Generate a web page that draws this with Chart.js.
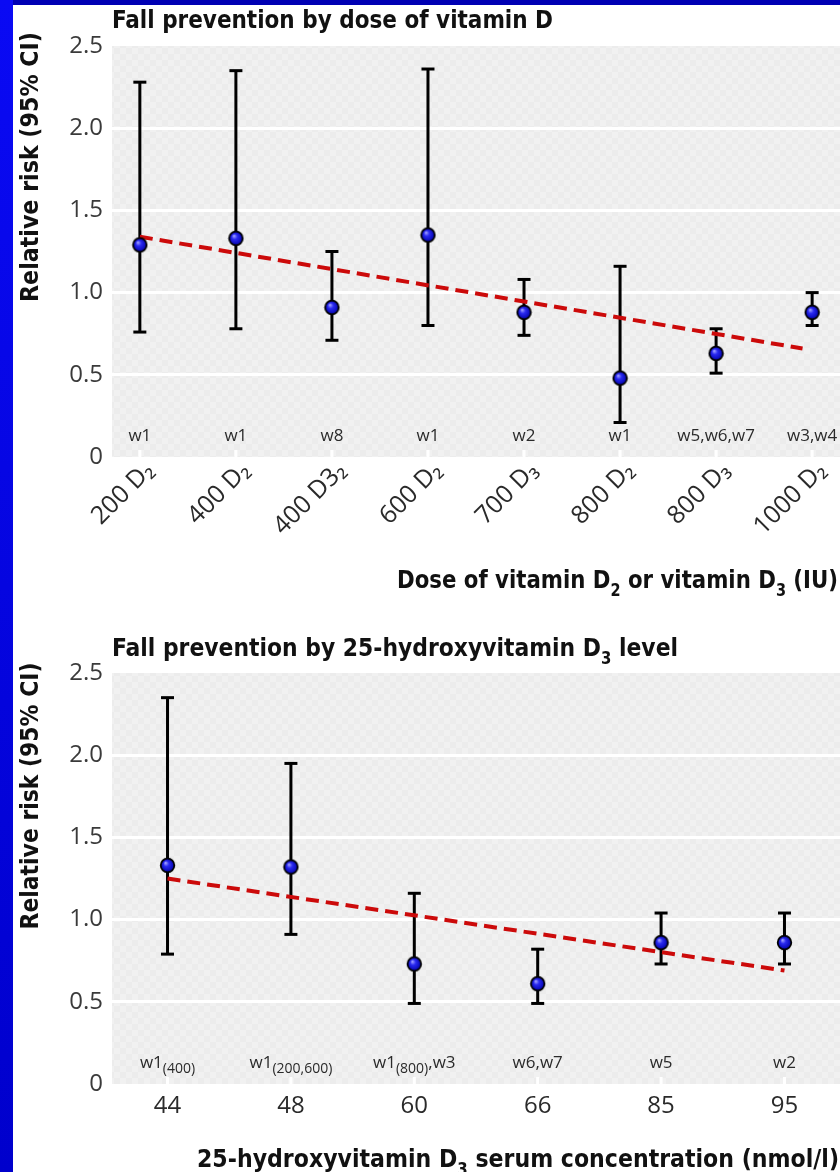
<!DOCTYPE html>
<html>
<head>
<meta charset="utf-8">
<script src="https://cdn.jsdelivr.net/npm/chart.js@4.4.1/dist/chart.umd.min.js"></script>
<style>
  body { margin: 0; background: #fff; width: 840px; height: 1172px; overflow: hidden; position: relative; }
  canvas { position: absolute; left: 0; }
  #doseChart { top: 0; }
  #levelChart { top: 610px; }
  #edgeTop { position: absolute; left: 0; top: 0; width: 840px; height: 5px; background: #0000b4; z-index: 2; }
  #edgeLeft { position: absolute; left: 0; top: 0; width: 13px; height: 1172px; background: linear-gradient(#0a0af4, #0000cc); z-index: 3; }
</style>
</head>
<body>
<div id="edgeTop"></div>
<div id="edgeLeft"></div>
<canvas id="doseChart" width="840" height="610"></canvas>
<canvas id="levelChart" width="840" height="562"></canvas>
<script>
// ---- data ----
const yTicks = [0, 0.5, 1.0, 1.5, 2.0, 2.5];

const doseLabels = ["200 D₂", "400 D₂", "400 D3₂", "600 D₂", "700 D₃", "800 D₂", "800 D₃", "1000 D₂"];
const doseStudies = ["w1", "w1", "w8", "w1", "w2", "w1", "w5,w6,w7", "w3,w4"];
const doseRR = [1.29, 1.33, 0.91, 1.35, 0.88, 0.48, 0.63, 0.88];
const doseLow = [0.76, 0.78, 0.71, 0.80, 0.74, 0.21, 0.51, 0.80];
const doseHigh = [2.28, 2.35, 1.25, 2.36, 1.08, 1.16, 0.78, 1.00];
const doseTrendX = [0, 6.9];
const doseTrendY = [1.34, 0.66];

const levelLabels = ["44", "48", "60", "66", "85", "95"];
const levelStudies = ["w1{(400)}", "w1{(200,600)}", "w1{(800)},w3", "w6,w7", "w5", "w2"];
const levelRR = [1.33, 1.32, 0.73, 0.61, 0.86, 0.86];
const levelLow = [0.79, 0.91, 0.49, 0.49, 0.73, 0.73];
const levelHigh = [2.35, 1.95, 1.16, 0.82, 1.04, 1.04];
const levelTrendX = [0, 5];
const levelTrendY = [1.25, 0.69];

const BOLD_FONT = '"DejaVu Sans Condensed", "Liberation Sans Narrow", "DejaVu Sans", sans-serif';
const LIGHT_FONT = '"Open Sans", "Noto Sans", sans-serif';

// shiny blue ball used as point style
function makeBall() {
    const c = document.createElement("canvas");
    c.width = 17; c.height = 17;
    const g = c.getContext("2d");
    const grad = g.createRadialGradient(6.5, 6, 0.5, 8.5, 8.5, 7);
    grad.addColorStop(0, "#9a9aff");
    grad.addColorStop(0.35, "#2a2af0");
    grad.addColorStop(1, "#0000a8");
    g.beginPath();
    g.arc(8.5, 8.5, 6.8, 0, Math.PI * 2);
    g.fillStyle = grad;
    g.fill();
    g.lineWidth = 1.8;
    g.strokeStyle = "#000";
    g.stroke();
    return c;
}
const ball = makeBall();

// faint checker fill of the plot area
function makePattern(ctx) {
    const c = document.createElement("canvas");
    c.width = 12; c.height = 12;
    const g = c.getContext("2d");
    g.fillStyle = "#ececec";
    g.fillRect(0, 0, 12, 12);
    g.fillStyle = "#f1f1f1";
    g.fillRect(0, 0, 6, 6);
    g.fillRect(6, 6, 6, 6);
    return ctx.createPattern(c, "repeat");
}

// text with {subscript} parts, optionally squeezed to a width
function drawRich(ctx, text, x, y, o) {
    const pieces = text.split(/(\{[^}]*\})/).filter(s => s).map(s =>
        s[0] === "{" ? { t: s.slice(1, -1), sub: true } : { t: s, sub: false });
    const subScale = o.subScale || 0.68;
    const fontFor = p => `${o.weight} ${p.sub ? Math.round(o.size * subScale) : o.size}px ${o.family}`;
    let total = 0;
    pieces.forEach(p => {
        ctx.font = fontFor(p);
        p.w = ctx.measureText(p.t).width;
        total += p.w;
    });
    const sx = o.width ? o.width / total : 1;
    ctx.save();
    ctx.translate(x, y);
    if (o.rotate) ctx.rotate(o.rotate);
    ctx.scale(sx, 1);
    ctx.fillStyle = o.color;
    ctx.textAlign = "left";
    ctx.textBaseline = "alphabetic";
    let cx = o.align === "center" ? -total / 2 : 0;
    pieces.forEach(p => {
        ctx.font = fontFor(p);
        ctx.fillText(p.t, cx, p.sub ? o.size * 0.3 : 0);
        cx += p.w;
    });
    ctx.restore();
}

const decoPlugin = {
    id: "deco",
    beforeDraw(chart, args, o) {
        const { ctx, chartArea: a } = chart;
        ctx.save();
        ctx.fillStyle = makePattern(ctx);
        ctx.fillRect(a.left, a.top, a.right - a.left, a.bottom - a.top);
        ctx.restore();
    },
    beforeDatasetsDraw(chart, args, o) {
        const { ctx, chartArea: a, scales } = chart;
        ctx.save();
        ctx.fillStyle = "#fff";
        o.studies.forEach((s, i) => {
            const x = scales.x.getPixelForValue(i);
            ctx.fillRect(x - 1.5, a.bottom - 7, 3, 7);
        });
        ctx.restore();
    },
    afterDraw(chart, args, o) {
        const { ctx, chartArea: a, scales } = chart;
        const bold = { weight: "bold", size: 25, family: BOLD_FONT, color: "#111" };
        drawRich(ctx, o.title, a.left, o.titleY, { ...bold, width: o.titleW });
        drawRich(ctx, o.yTitle, 38, o.yTitleY, { ...bold, width: o.yTitleW, rotate: -Math.PI / 2, align: "center" });
        drawRich(ctx, o.xTitle, o.xTitleX, o.xTitleY, { ...bold, width: o.xTitleW });
        o.studies.forEach((s, i) => {
            const x = scales.x.getPixelForValue(i);
            drawRich(ctx, s, x, a.bottom - 16, {
                weight: "normal", size: 17, family: LIGHT_FONT, color: "#2a2a2a",
                align: "center", subScale: 0.8
            });
        });
    }
};

function makeChart(canvasId, cfg) {
    const whiskers = [];
    const caps = [];
    const points = [];
    cfg.rr.forEach((v, i) => {
        whiskers.push({ x: i, y: cfg.low[i] }, { x: i, y: cfg.high[i] }, { x: i, y: null });
        caps.push({ x: i, y: cfg.low[i] }, { x: i, y: cfg.high[i] });
        points.push({ x: i, y: v });
    });
    const trend = cfg.trendX.map((x, i) => ({ x: x, y: cfg.trendY[i] }));

    return new Chart(document.getElementById(canvasId), {
        type: "scatter",
        data: {
            datasets: [
                { data: points, pointStyle: ball, pointRadius: 8, order: 0, clip: false },
                {
                    type: "line", data: trend, showLine: true, pointRadius: 0,
                    borderColor: "#cc0a0a", borderWidth: 4, borderDash: [13, 7], order: 1
                },
                {
                    data: caps, pointStyle: "line", pointRadius: 6.5,
                    borderColor: "#000", borderWidth: 3, order: 2, clip: false
                },
                {
                    type: "line", data: whiskers, showLine: true, spanGaps: false, pointRadius: 0,
                    borderColor: "#000", borderWidth: 3, order: 3
                }
            ]
        },
        options: {
            responsive: false,
            animation: false,
            events: [],
            layout: { autoPadding: false, padding: { top: cfg.plotTop, left: 0, right: 0, bottom: 0 } },
            plugins: {
                legend: { display: false },
                tooltip: { enabled: false },
                deco: cfg.deco
            },
            scales: {
                x: {
                    type: "linear",
                    min: cfg.xMin,
                    max: cfg.xMax,
                    afterBuildTicks: axis => { axis.ticks = cfg.labels.map((l, i) => ({ value: i })); },
                    afterFit: scale => {
                        scale.height = cfg.xAxisHeight;
                        scale.paddingLeft = 0;
                        scale.paddingRight = 0;
                    },
                    grid: { display: false },
                    border: { display: false },
                    ticks: {
                        autoSkip: false,
                        minRotation: cfg.rotation,
                        maxRotation: cfg.rotation,
                        padding: cfg.tickPadding,
                        labelOffset: cfg.labelOffset,
                        color: "#2a2a2a",
                        font: { family: LIGHT_FONT, size: cfg.xFontSize },
                        callback: v => cfg.labels[v]
                    }
                },
                y: {
                    min: 0,
                    max: 2.5,
                    afterBuildTicks: axis => { axis.ticks = yTicks.map(v => ({ value: v })); },
                    afterFit: scale => {
                        scale.width = 112;
                        scale.paddingTop = 0;
                        scale.paddingBottom = 0;
                    },
                    border: { display: false },
                    grid: {
                        drawTicks: false,
                        lineWidth: 3,
                        color: c => (c.tick && (c.tick.value === 0 || c.tick.value === 2.5)) ? "rgba(0,0,0,0)" : "#ffffff"
                    },
                    ticks: {
                        padding: 9,
                        color: "#3a3a3a",
                        font: { family: LIGHT_FONT, size: 24 },
                        callback: v => v === 0 ? "0" : v.toFixed(1)
                    }
                }
            }
        },
        plugins: [decoPlugin]
    });
}

makeChart("doseChart", {
    labels: doseLabels, rr: doseRR, low: doseLow, high: doseHigh,
    trendX: doseTrendX, trendY: doseTrendY,
    xMin: -0.29, xMax: 7.29, plotTop: 46, xAxisHeight: 153,
    rotation: 45, tickPadding: -9, labelOffset: 10, xFontSize: 25,
    deco: {
        studies: doseStudies,
        title: "Fall prevention by dose of vitamin D", titleY: 28, titleW: 441,
        yTitle: "Relative risk (95% CI)", yTitleY: 167, yTitleW: 270,
        xTitle: "Dose of vitamin D{2} or vitamin D{3} (IU)", xTitleX: 397, xTitleY: 588, xTitleW: 441
    }
});

makeChart("levelChart", {
    labels: levelLabels, rr: levelRR, low: levelLow, high: levelHigh,
    trendX: levelTrendX, trendY: levelTrendY,
    xMin: -0.45, xMax: 5.45, plotTop: 63, xAxisHeight: 88,
    rotation: 0, tickPadding: 0, labelOffset: 0, xFontSize: 24,
    deco: {
        studies: levelStudies,
        title: "Fall prevention by 25-hydroxyvitamin D{3} level", titleY: 46, titleW: 566,
        yTitle: "Relative risk (95% CI)", yTitleY: 186, yTitleW: 267,
        xTitle: "25-hydroxyvitamin D{3} serum concentration (nmol/l)", xTitleX: 197, xTitleY: 557, xTitleW: 642
    }
});
</script>
</body>
</html>
